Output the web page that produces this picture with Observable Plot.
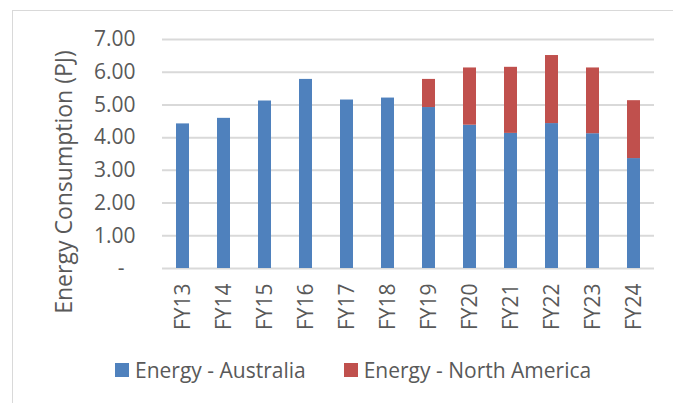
<!DOCTYPE html>
<html><head><meta charset="utf-8">
<script src="https://cdn.jsdelivr.net/npm/d3@7"></script>
<script src="https://cdn.jsdelivr.net/npm/@observablehq/plot@0.6"></script>
<style>
body{margin:0;background:#fff;}
#wrap{position:relative;width:673px;height:403px;overflow:hidden;font-family:"Open Sans",sans-serif;color:#595959;background:#fff;}
#border{position:absolute;left:12px;top:10px;width:700px;height:500px;border:1px solid #d9d9d9;box-sizing:border-box;}
#chart{position:absolute;left:0;top:0;}
#legend{position:absolute;left:115px;top:356px;display:flex;align-items:center;font-size:21px;line-height:28px;white-space:nowrap;}
.item{display:flex;align-items:center;}
.sw{width:14px;height:14px;display:inline-block;margin-right:6px;}
</style></head>
<body><div id="wrap"><div id="border"></div><div id="chart"></div><div id="legend"></div></div>
<script>
const years = ["FY13","FY14","FY15","FY16","FY17","FY18","FY19","FY20","FY21","FY22","FY23","FY24"];
const australia = [4.42,4.59,5.12,5.78,5.15,5.21,4.92,4.38,4.13,4.43,4.12,3.36];
const northAmerica = [0,0,0,0,0,0,0.86,1.75,2.02,2.08,2.01,1.77];
const seriesNames = ["Energy - Australia","Energy - North America"];
const seriesColors = ["#4F81BD","#C0504D"];
const yTicks = [0,1,2,3,4,5,6,7];
const yTitle = "Energy Consumption (PJ)";

const data = [];
years.forEach((yr,i)=>{
  data.push({year:yr, series:seriesNames[0], value:australia[i]});
  if (northAmerica[i] > 0) data.push({year:yr, series:seriesNames[1], value:northAmerica[i]});
});

const chart = Plot.plot({
  width:673, height:345,
  marginLeft:162, marginRight:19, marginTop:39, marginBottom:77,
  style:{fontFamily:"'Open Sans', sans-serif", fontSize:"21px", color:"#595959", background:"transparent", overflow:"visible"},
  x:{domain:years, paddingInner:0.68, paddingOuter:0.34, label:null},
  y:{domain:[0,7], ticks:yTicks, label:null},
  color:{domain:seriesNames, range:seriesColors},
  marks:[
    Plot.gridY(yTicks,{stroke:"#d9d9d9", strokeWidth:2, strokeOpacity:1}),
    Plot.barY(data,{x:"year", y:"value", fill:"series"}),
    Plot.axisY(yTicks,{tickSize:0, tickPadding:27, fontSize:21, tickFormat:d => d === 0 ? "-\u00a0\u00a0" : d.toFixed(2), label:null}),
    Plot.axisX({tickSize:0, tickRotate:-90, tickPadding:15, fontSize:21, label:null}),
    Plot.text([yTitle],{frameAnchor:"left", textAnchor:"middle", lineAnchor:"middle", rotate:-90, dx:-98, dy:28, fontSize:23, fill:"#595959"})
  ]
});
document.getElementById("chart").appendChild(chart);

const legend = document.getElementById("legend");
seriesNames.forEach((name,i)=>{
  const it = document.createElement("div");
  it.className = "item";
  if (i > 0) it.style.marginLeft = "38px";
  const sw = document.createElement("span");
  sw.className = "sw";
  sw.style.background = seriesColors[i];
  const t = document.createElement("span");
  t.textContent = name;
  it.appendChild(sw); it.appendChild(t);
  legend.appendChild(it);
});
</script>
</body></html>
